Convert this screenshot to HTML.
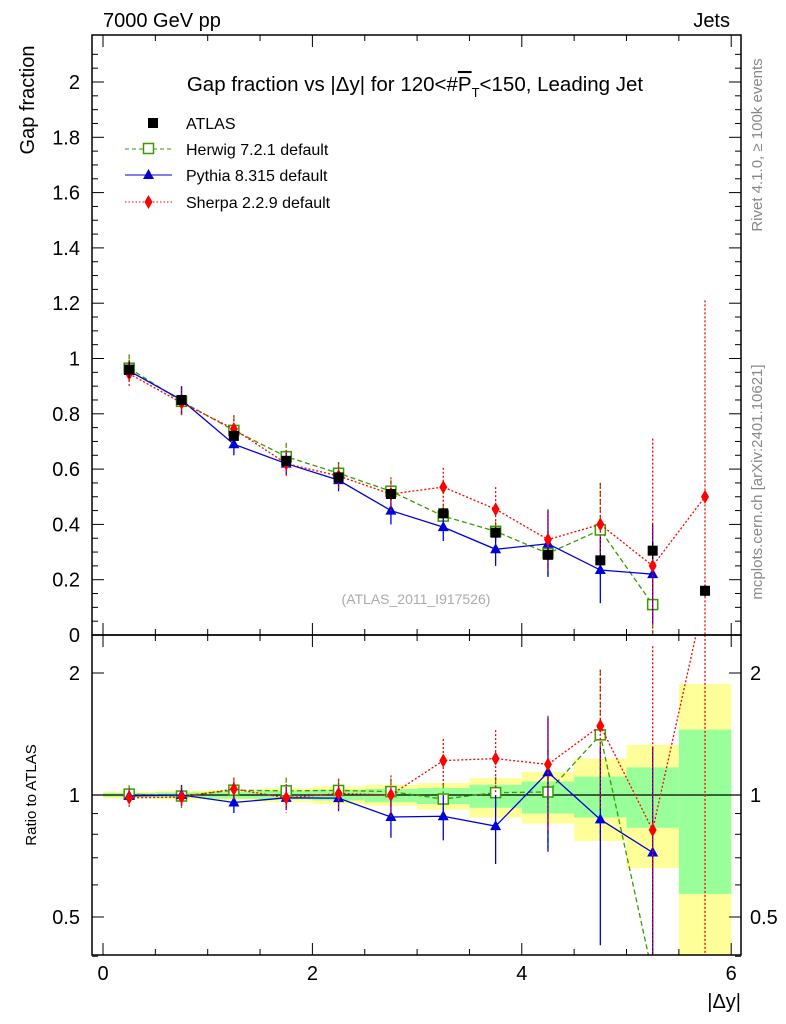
<!DOCTYPE html>
<html><head><meta charset="utf-8"><style>
html,body{margin:0;background:#fff;overflow:hidden;width:786px;height:1024px}
svg{font-family:"Liberation Sans",Arial,sans-serif;display:block}
</style></head><body>
<svg id="c" width="786" height="1024" viewBox="0 0 786 1024" xmlns="http://www.w3.org/2000/svg">
<g id="bands"></g><g id="marks"></g><g id="axes"></g>
<text x="103" y="27" font-size="20">7000 GeV pp</text>
<text x="730" y="27" font-size="20" text-anchor="end">Jets</text>
<text x="415" y="91" font-size="20.5" text-anchor="middle">Gap fraction vs |Δy| for 120&lt;#<tspan text-decoration="overline">P</tspan><tspan font-size="13" dy="6">T</tspan><tspan dy="-6">&lt;150, Leading Jet</tspan></text>
<text transform="translate(34,100) rotate(-90)" font-size="20" text-anchor="middle">Gap fraction</text>
<text transform="translate(36,795) rotate(-90)" font-size="15" text-anchor="middle">Ratio to ATLAS</text>
<text x="741" y="1008" font-size="20" text-anchor="end">|Δy|</text>
<text transform="translate(762,145) rotate(-90)" font-size="15" fill="#888" text-anchor="middle">Rivet 4.1.0, ≥ 100k events</text>
<text transform="translate(762,482) rotate(-90)" font-size="15" fill="#888" text-anchor="middle">mcplots.cern.ch [arXiv:2401.10621]</text>
<text x="416" y="604" font-size="14" fill="#aaa" text-anchor="middle">(ATLAS_2011_I917526)</text>
<g>
<rect x="148" y="118" width="10" height="10" fill="#000"/>
<text x="186" y="129" font-size="16">ATLAS</text>
<line x1="125" y1="149" x2="172" y2="149" stroke="#3a9a00" stroke-dasharray="4,3"/>
<rect x="143.5" y="143.5" width="10" height="10" fill="#fff" stroke="#3a9a00" stroke-width="1.5"/>
<text x="186" y="155" font-size="16">Herwig 7.2.1 default</text>
<line x1="125" y1="175" x2="172" y2="175" stroke="#00c"/>
<path d="M148.5 169 L154 179 L143 179Z" fill="#00c"/>
<text x="186" y="181" font-size="16">Pythia 8.315 default</text>
<line x1="125" y1="202" x2="172" y2="202" stroke="#f00" stroke-dasharray="1.5,2"/>
<path d="M148.5 195 L152.5 202 L148.5 209 L144.5 202Z" fill="#f00"/>
<text x="186" y="208" font-size="16">Sherpa 2.2.9 default</text>
</g>
</svg>
<script>
const binCenters=[0.25,0.75,1.25,1.75,2.25,2.75,3.25,3.75,4.25,4.75,5.25,5.75];
const atlasVals=[0.96,0.85,0.72,0.63,0.57,0.51,0.44,0.37,0.29,0.27,0.305,0.16];
const atlasErr=[0.03,0.02,0.02,0.02,0.02,0.02,0.02,0.02,0.02,0.02,0.03,0.02];
const herwigVals=[0.965,0.845,0.74,0.645,0.585,0.52,0.43,0.375,0.295,0.38,0.11];
const herwigErr=[0.05,0.05,0.05,0.05,0.04,0.04,0.04,0.035,0.08,0.17,0.11];
const pythiaVals=[0.955,0.85,0.69,0.62,0.56,0.45,0.39,0.31,0.33,0.235,0.22];
const pythiaErr=[0.03,0.05,0.04,0.04,0.04,0.05,0.05,0.06,0.12,0.12,0.18];
const sherpaVals=[0.945,0.84,0.745,0.62,0.575,0.51,0.535,0.455,0.345,0.40,0.25,0.50];
const sherpaErr=[0.05,0.05,0.05,0.05,0.05,0.06,0.07,0.08,0.11,0.15,0.46,0.71];
const yellowHi=[1.02,1.025,1.03,1.04,1.05,1.06,1.07,1.10,1.14,1.23,1.33,1.88];
const yellowLo=[0.98,0.975,0.97,0.96,0.95,0.94,0.92,0.88,0.85,0.77,0.66,0.3];
const greenHi=[1.01,1.015,1.02,1.025,1.03,1.035,1.04,1.06,1.08,1.11,1.17,1.45];
const greenLo=[0.99,0.985,0.98,0.975,0.97,0.96,0.95,0.93,0.9,0.88,0.83,0.57];
const xTicks=[0,2,4,6];
const yTicks=[0,0.2,0.4,0.6,0.8,1,1.2,1.4,1.6,1.8,2];
const rTicks=[0.5,1,2];

const NS='http://www.w3.org/2000/svg';
const L=92,R=741,T=35,MB=635,RB=955;
const X=v=>103+v*104.7;
const Y=v=>635-v*276.5;
const RY=v=>795-Math.log2(v)*122;
const clampR=y=>Math.max(MB,Math.min(RB,y));
function mk(tag,attrs,parent){const e=document.createElementNS(NS,tag);for(const k in attrs)e.setAttribute(k,attrs[k]);parent.appendChild(e);return e;}
const bands=document.getElementById('bands'),marks=document.getElementById('marks'),axes=document.getElementById('axes');

binCenters.forEach((c,i)=>{
  const x0=X(c-0.25),x1=Math.min(X(c+0.25),R);
  const y1=clampR(RY(yellowHi[i])),y2=clampR(RY(yellowLo[i]));
  const r=mk('rect',{x:x0,y:y1,width:x1-x0,height:y2-y1,fill:'#ffff99'},bands);
  
  
  const g1=clampR(RY(greenHi[i])),g2=clampR(RY(greenLo[i]));
  const g=mk('rect',{x:x0,y:g1,width:x1-x0,height:g2-g1,fill:'#99ff99'},bands);
  
  
});
const one=mk('line',{x1:L,x2:R,y1:RY(1),y2:RY(1),stroke:'#000','stroke-width':1.2},bands);



function clip(id,y0,y1){const cp=mk('clipPath',{id:id},document.getElementById('c'));mk('rect',{x:L,y:y0,width:R-L,height:y1-y0},cp);}
clip('cm',T,MB);clip('cr',MB,RB);

function marker(type,color,x,y,parent){
  let e;
  if(type==='sq')e=mk('rect',{x:x-5,y:y-5,width:10,height:10,fill:'#fff',stroke:color,'stroke-width':1.5},parent);
  else if(type==='tri')e=mk('path',{d:`M${x} ${y-6}L${x+5.5} ${y+4}L${x-5.5} ${y+4}Z`,fill:color},parent);
  else if(type==='dia')e=mk('path',{d:`M${x} ${y-7}L${x+4} ${y}L${x} ${y+7}L${x-4} ${y}Z`,fill:color},parent);
  else e=mk('rect',{x:x-5,y:y-5,width:10,height:10,fill:color},parent);
  return e;
}
function series(name,vals,errs,color,dash,type,withRatio){
  const panels=[['cm',Y,v=>v]];
  if(withRatio)panels.push(['cr',RY,(v,i)=>v/atlasVals[i]]);
  panels.forEach(([cid,fy,tv])=>{
    const g=mk('g',{'clip-path':`url(#${cid})`},marks);
    
    
    const pts=vals.map((v,i)=>{const t=tv(v,i);return [X(binCenters[i]),fy(Math.max(t,1e-3))];});
    if(color){
      const pl=mk('polyline',{points:pts.map(p=>p.join(',')).join(' '),fill:'none',stroke:color,'stroke-width':1.3,'stroke-dasharray':dash},g);
      
      
    }
    vals.forEach((v,i)=>{
      const t=tv(v,i),s=t/v;
      const hi=(v+errs[i])*s,lo=Math.max((v-errs[i])*s,1e-3);
      const eb=mk('line',{x1:pts[i][0],x2:pts[i][0],y1:fy(hi),y2:fy(lo),stroke:color||'#000','stroke-width':1.3,'stroke-dasharray':dash},g);
      
      
      const m=marker(type,color||'#000',pts[i][0],pts[i][1],g);
      
      
    });
  });
}
series('herwig',herwigVals,herwigErr,'#3a9a00','5,3','sq',true);
series('pythia',pythiaVals,pythiaErr,'#0000dd','','tri',true);
series('sherpa',sherpaVals,sherpaErr,'#ff0000','2,2','dia',true);
series('atlas',atlasVals,atlasErr,null,'','atl',false);
[[T,MB],[MB,RB]].forEach(([a,b],k)=>{
  const f=mk('rect',{x:L,y:a,width:R-L,height:b-a,fill:'none',stroke:'#000','stroke-width':1.5},axes);
  
  
});
for(let v=0;v<=6.01;v+=0.5){
  const maj=Math.abs(v-Math.round(v/2)*2)<1e-6,len=maj?12:6;
  [[T,1],[MB,-1],[MB,1],[RB,-1]].forEach(([y,d])=>mk('line',{x1:X(v),x2:X(v),y1:y,y2:y+d*len,stroke:'#000'},axes));
}
xTicks.forEach(v=>{const t=mk('text',{x:X(v),y:980,'font-size':20,'text-anchor':'middle'},axes);t.textContent=v;

});
for(let v=0;v<=2.15;v+=0.05){
  const maj=Math.abs(v*5-Math.round(v*5))<1e-6,len=maj?12:6;
  mk('line',{x1:L,x2:L+len,y1:Y(v),y2:Y(v),stroke:'#000'},axes);
  mk('line',{x1:R,x2:R-len,y1:Y(v),y2:Y(v),stroke:'#000'},axes);
}
yTicks.forEach(v=>{const t=mk('text',{x:80,y:Y(v)+7,'font-size':20,'text-anchor':'end'},axes);t.textContent=String(+v.toFixed(1));

});
[0.4,0.5,0.6,0.7,0.8,0.9,1,2].forEach(v=>{const len=rTicks.includes(v)?12:6;
  mk('line',{x1:L,x2:L+len,y1:RY(v),y2:RY(v),stroke:'#000'},axes);mk('line',{x1:R,x2:R-len,y1:RY(v),y2:RY(v),stroke:'#000'},axes);});
rTicks.forEach(v=>{
  const t=mk('text',{x:80,y:RY(v)+7,'font-size':20,'text-anchor':'end'},axes);t.textContent=v;
  
  
  const t2=mk('text',{x:750,y:RY(v)+7,'font-size':20},axes);t2.textContent=v;
  
  
});
</script>
</body></html>
